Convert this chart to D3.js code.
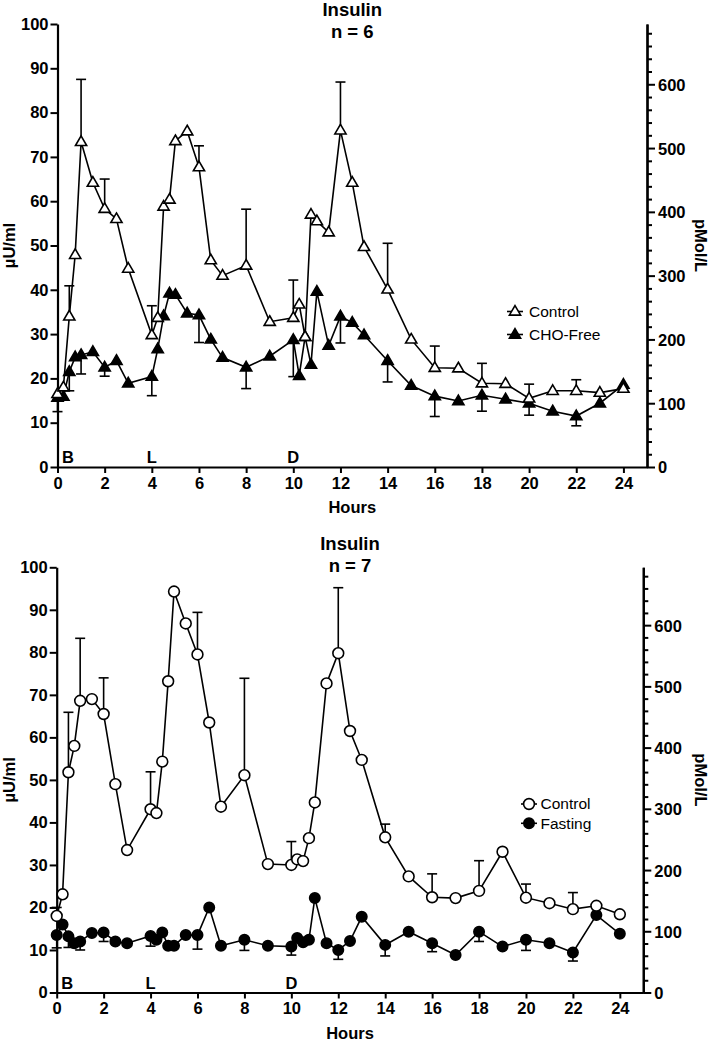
<!DOCTYPE html>
<html>
<head>
<meta charset="utf-8">
<script src="https://cdn.jsdelivr.net/npm/d3@7"></script>
<style>
  html, body { margin: 0; padding: 0; background: #fff; }
  svg { display: block; }
  text { font-family: "Liberation Sans", Arial, Helvetica, sans-serif; fill: #000; }
</style>
</head>
<body>
<svg id="chart" width="709" height="1041"></svg>
<script>
// ---------------- DATA ----------------
const hours = [0,0.25,0.5,0.75,1,1.5,2,2.5,3,4,4.25,4.5,4.75,5,5.5,6,6.5,7,8,9,10,10.25,10.5,10.75,11,11.5,12,12.5,13,14,15,16,17,18,19,20,21,22,23,24];
const xTicks = [0,2,4,6,8,10,12,14,16,18,20,22,24];
const leftTicks = [0,10,20,30,40,50,60,70,80,90,100];
const rightTicks = [0,100,200,300,400,500,600];
const mealLabels = ["B","L","D"];
const mealHours = [0,4,10];

// Panel 1 (n = 6)
const ctrl1 = [16.5,18.0,34.0,47.9,73.4,64.2,58.3,56.0,44.8,29.8,33.7,58.8,60.4,73.6,75.8,67.7,46.7,43.2,45.5,32.8,33.7,36.7,29.4,57.0,55.5,53.0,76.0,64.2,49.7,40.1,28.8,22.4,22.3,18.9,18.8,15.5,17.2,17.2,16.8,17.7];
const ctrl1Err = {0.5:6.9,1:14.1,2:6.7,4:6.6,6:4.8,8:12.7,10:8.5,12:10.9,14:10.4,16:4.9,18:4.5,20:3.2,22:2.5};
const cho = [15.7,15.9,21.5,24.8,25.3,26.0,22.5,24.0,18.9,20.4,26.6,34.1,39.2,38.9,34.7,34.3,28.8,24.7,22.5,25.0,28.7,20.6,29.4,23.1,39.6,27.4,34.0,32.6,29.8,24.0,18.4,16.0,14.9,16.2,15.3,14.4,12.6,11.5,14.4,18.6];
const choErr = {0:3.2,0.5:4.3,1:4.3,2:2.0,4:4.3,6:6.2,8:4.8,10:8.3,12:6.0,14:4.8,16:4.6,18:3.6,20:2.7,22:2.2};

// Panel 2 (n = 7)
const ctrl2 = [18.0,23.1,51.8,58.0,68.6,69.0,65.5,49.0,33.5,43.1,42.2,54.3,73.2,94.3,86.8,79.5,63.5,43.7,51.1,30.2,30.0,31.3,30.9,36.3,44.7,72.7,79.8,61.5,54.7,36.5,27.3,22.4,22.2,23.9,33.1,22.3,21.0,19.6,20.4,18.4];
const ctrl2Err = {0:2.0,0.5:14.1,1:14.7,2:8.5,4:8.8,6:9.9,8:22.8,10:5.5,12:15.4,14:3.1,16:5.5,18:7.1,20:3.2,22:3.9};
const fast = [13.5,16.0,13.2,11.6,12.0,14.0,14.1,12.0,11.6,13.3,12.4,14.1,11.0,11.0,13.5,13.5,20.0,11.0,12.4,11.0,10.8,12.8,11.8,12.4,22.2,11.6,10.0,12.1,17.8,11.2,14.3,11.6,8.8,14.3,10.8,12.4,11.6,9.4,18.2,13.8];
const fastErr = {0:3.0,0.5:2.6,1:2.0,2:2.1,4:2.4,6:3.3,8:2.5,10:2.0,12:2.2,14:2.6,16:2.0,18:2.3,20:2.5,22:2.0};

const PMOL_PER_UU = 6.945;

// ---------------- DRAW ----------------
const svg = d3.select("#chart");

function triPath(cx, cy) {
  const w = 5.6, h = 9.6;
  return `M${cx},${cy - h*0.62}L${cx + w},${cy + h*0.38}L${cx - w},${cy + h*0.38}Z`;
}

function drawMarker(g, shape, filled, cx, cy) {
  if (shape === "tri") {
    g.append("path").attr("d", triPath(cx, cy))
      .attr("fill", filled ? "#000" : "#fff").attr("stroke", "#000").attr("stroke-width", 1.6)
      .attr("stroke-linejoin", "miter");
  } else {
    g.append("circle").attr("cx", cx).attr("cy", cy).attr("r", filled ? 5.2 : 5.4)
      .attr("fill", filled ? "#000" : "#fff").attr("stroke", "#000").attr("stroke-width", 1.6);
  }
}

function panel(cfg) {
  const g = svg.append("g");
  const x = d3.scaleLinear().domain([0, 25]).range([cfg.left, cfg.right]);
  const y = d3.scaleLinear().domain([0, 100]).range([cfg.bottom, cfg.top]);
  const yR = d3.scaleLinear().domain([0, 100 * PMOL_PER_UU]).range([cfg.bottom, cfg.top]);

  // Axes
  const axL = g.append("g").attr("transform", `translate(${cfg.left},0)`)
    .call(d3.axisLeft(y).tickValues(leftTicks).tickSize(7).tickSizeOuter(0).tickPadding(2));
  const axB = g.append("g").attr("transform", `translate(0,${cfg.bottom})`)
    .call(d3.axisBottom(x).tickValues(xTicks).tickSize(6).tickSizeOuter(0).tickPadding(4));
  const minor = d3.range(0, 100 * PMOL_PER_UU, 20).filter(v => v % 100 !== 0);
  const axRm = g.append("g").attr("transform", `translate(${cfg.right},0)`)
    .call(d3.axisRight(yR).tickValues(minor).tickSize(5).tickSizeOuter(0).tickFormat(""));
  const axR = g.append("g").attr("transform", `translate(${cfg.right},0)`)
    .call(d3.axisRight(yR).tickValues(rightTicks).tickSize(8).tickSizeOuter(0).tickPadding(3));
  [axL, axB, axR, axRm].forEach(a => {
    a.selectAll("path.domain").attr("stroke", "#000").attr("stroke-width", 2.2);
    a.selectAll(".tick line").attr("stroke", "#000").attr("stroke-width", 2);
    a.selectAll(".tick text").attr("font-size", 16.5).attr("font-weight", "bold")
      .attr("font-family", '"Liberation Sans", Arial, sans-serif').attr("fill", "#000");
  });
  axR.selectAll(".tick text").attr("dy", "0.36em");

  // Titles
  const cx = (cfg.left + cfg.right) / 2;
  g.append("text").attr("x", cx).attr("y", cfg.titleY).attr("text-anchor", "middle")
    .attr("font-size", 18.5).attr("font-weight", "bold").text("Insulin");
  g.append("text").attr("x", cx).attr("y", cfg.titleY + 22.5).attr("text-anchor", "middle")
    .attr("font-size", 18.5).attr("font-weight", "bold").text(cfg.nLabel);
  g.append("text").attr("x", cx).attr("y", cfg.bottom + 46).attr("text-anchor", "middle")
    .attr("font-size", 16.5).attr("font-weight", "bold").text("Hours");
  const my = (cfg.top + cfg.bottom) / 2;
  g.append("text").attr("transform", `translate(15,${my}) rotate(-90)`).attr("text-anchor", "middle")
    .attr("font-size", 16.5).attr("font-weight", "bold").text("µU/ml");
  g.append("text").attr("transform", `translate(695,${my}) rotate(90)`).attr("text-anchor", "middle")
    .attr("font-size", 16.5).attr("font-weight", "bold").text("pMol/L");

  // Meal labels
  mealLabels.forEach((m, i) => {
    const h = mealHours[i];
    g.append("text").attr("x", h === 0 ? x(h) + 4.5 : x(h)).attr("y", cfg.bottom - 4)
      .attr("text-anchor", h === 0 ? "start" : "middle")
      .attr("font-size", 16.5).attr("font-weight", "bold").text(m);
  });

  const line = d3.line().x(d => x(d[0])).y(d => y(d[1]));
  const seriesList = cfg.series;
  // lines
  seriesList.forEach(s => {
    g.append("path").datum(hours.map((h, i) => [h, s.values[i]]))
      .attr("d", line).attr("fill", "none").attr("stroke", "#000").attr("stroke-width", 1.6);
  });
  // error bars
  seriesList.forEach(s => {
    Object.keys(s.err).forEach(k => {
      const h = +k, i = hours.indexOf(h), v = s.values[i], e = s.err[k];
      const end = s.dir > 0 ? v + e : v - e;
      g.append("line").attr("x1", x(h)).attr("x2", x(h)).attr("y1", y(v)).attr("y2", y(end))
        .attr("stroke", "#000").attr("stroke-width", 1.6);
      g.append("line").attr("x1", x(h) - 5).attr("x2", x(h) + 5).attr("y1", y(end)).attr("y2", y(end))
        .attr("stroke", "#000").attr("stroke-width", 1.6);
    });
  });
  // markers (filled series first, then open on top)
  seriesList.slice().sort((a, b) => (b.filled ? 1 : 0) - (a.filled ? 1 : 0)).forEach(s => {
    hours.forEach((h, i) => drawMarker(g, s.shape, s.filled, x(h), y(s.values[i])));
  });

  // legend
  cfg.series.forEach((s, i) => {
    const ly = cfg.legendY + i * cfg.legendGap;
    g.append("line").attr("x1", cfg.legendX - 8).attr("x2", cfg.legendX + 8).attr("y1", ly).attr("y2", ly)
      .attr("stroke", "#000").attr("stroke-width", 1.6);
    drawMarker(g, s.shape, s.filled, cfg.legendX, ly);
    g.append("text").attr("x", cfg.legendTextX).attr("y", ly).attr("dy", "0.35em")
      .attr("font-size", 15.5).text(s.name);
  });
}

panel({
  left: 57.5, right: 647, top: 24, bottom: 467, titleY: 15.5, nLabel: "n = 6",
  legendX: 515, legendTextX: 529, legendY: 311.5, legendGap: 23,
  series: [
    { name: "Control", values: ctrl1, err: ctrl1Err, dir: 1, shape: "tri", filled: false },
    { name: "CHO-Free", values: cho, err: choErr, dir: -1, shape: "tri", filled: true }
  ]
});

panel({
  left: 56.7, right: 643.3, top: 567.3, bottom: 992.5, titleY: 549.5, nLabel: "n = 7",
  legendX: 529, legendTextX: 540.5, legendY: 804, legendGap: 19.3,
  series: [
    { name: "Control", values: ctrl2, err: ctrl2Err, dir: 1, shape: "circle", filled: false },
    { name: "Fasting", values: fast, err: fastErr, dir: -1, shape: "circle", filled: true }
  ]
});
</script>
</body>
</html>
